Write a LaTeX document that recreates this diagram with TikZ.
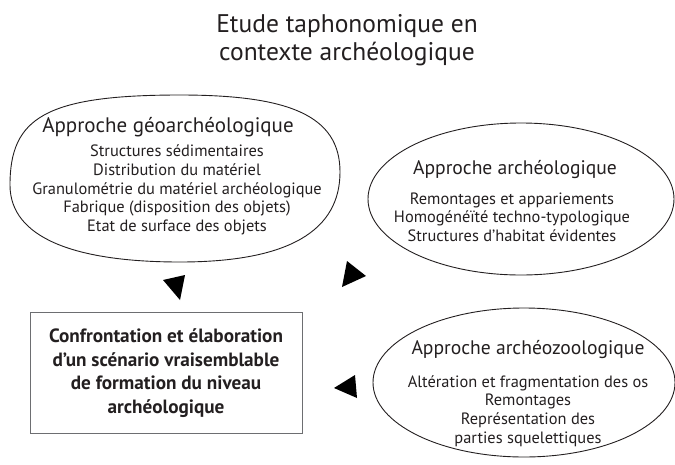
\documentclass[tikz,border=0pt]{standalone}
\usepackage{fontspec}
\setmainfont{PT Sans}
\usetikzlibrary{shapes.geometric}
\definecolor{ink}{HTML}{231F20}
\definecolor{boxgray}{HTML}{6D6E71}
\tikzset{
  oval/.style={draw=ink, line width=0.9pt, ellipse, inner sep=0pt},
  ovalpath/.style={draw=ink, line width=0.9pt},
  head/.style={text=ink, font=\fontsize{19.6}{22}\selectfont, inner sep=0pt},
  bighead/.style={text=ink, font=\fontsize{21}{24}\selectfont, inner sep=0pt},
  body/.style={text=ink, font=\fontsize{16.4}{18.6}\selectfont, align=center, inner sep=0pt},
  titletext/.style={text=ink, font=\fontsize{25.5}{28}\selectfont, align=center, inner sep=0pt},
  resultbox/.style={draw=boxgray, line width=0.9pt, minimum width=272pt, minimum height=121pt, inner sep=0pt},
  resulttext/.style={text=ink, font=\fontsize{19.2}{23.5}\selectfont\bfseries, align=center, inner sep=0pt},
  tri/.style={fill=black}
}
\begin{document}
\begin{tikzpicture}[x=1pt,y=-1pt]
\useasboundingbox (0,0) rectangle (675,464);
% title
\node[titletext] (title) at (347,40) {Etude taphonomique en\\contexte archéologique};
% ellipse 1 (fuller oval)
\coordinate (geo) at (175,178);
\draw[ovalpath] (340,172) .. controls (340,115) and (288,95) .. (180,95)
  .. controls (45,95) and (10,118) .. (10,185)
  .. controls (10,238) and (75,262) .. (180,262)
  .. controls (290,262) and (340,230) .. cycle;
\node[bighead] (geoh) at (168,127) {Approche géoarchéologique};
\node[body] (geob) at (177,190) {Structures sédimentaires\\Distribution du matériel\\Granulométrie du matériel archéologique\\Fabrique (disposition des objets)\\Etat de surface des objets};
% ellipse 2
\node[oval, minimum width=306pt, minimum height=152pt] (arch) at (521,199) {};
\node[head] (archh) at (515,170) {Approche archéologique};
\node[body] (archb) at (512,217) {Remontages et appariements\\Homogénéïté techno-typologique\\Structures d’habitat évidentes};
% ellipse 3
\node[oval, minimum width=302pt, minimum height=149pt] (zoo) at (524,382.5) {};
\node[head] (zooh) at (528,350) {Approche archéozoologique};
\node[body] (zoob) at (528,411) {Altération et fragmentation des os\\Remontages\\Représentation des\\parties squelettiques};
% box
\node[resultbox] (res) at (166,372.5) {};
\node[resulttext] (rest) at (166,373) {Confrontation et élaboration\\d’un scénario vraisemblable\\de formation du niveau\\archéologique};
% triangles
\fill[tri] (163,280) -- (185,275) -- (180,300) -- cycle;
\fill[tri] (347,261) -- (366,276) -- (342,287) -- cycle;
\fill[tri] (334,388) -- (355,375) -- (357,398) -- cycle;
\end{tikzpicture}
\end{document}
